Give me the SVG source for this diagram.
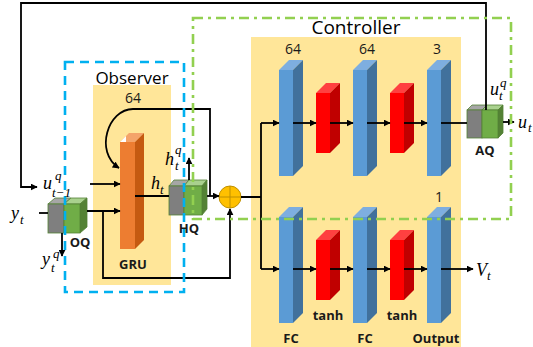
<svg xmlns="http://www.w3.org/2000/svg" width="533" height="347" viewBox="0 0 533 347">
<defs>
<style>
.bf{fill:#5b9bd5}.bs{fill:#41719c}.bt{fill:#7eaee0}
.rf{fill:#ff0000}.rs{fill:#c00000}.rt{fill:#ff4040}
.gf{fill:#7f7f7f;stroke:#548235;stroke-width:0.8}.gt{fill:#a6a6a6;stroke:#548235;stroke-width:0.8}
.qf{fill:#70ad47;stroke:#548235;stroke-width:0.8}.qs{fill:#548235;stroke:#548235;stroke-width:0.8}.qt{fill:#a9d18e;stroke:#548235;stroke-width:0.8}
.ln{fill:none;stroke:#000;stroke-width:1.8}
.ar{marker-end:url(#ah)}
.lbl{font-family:"Open Sans","Liberation Sans",sans-serif;fill:#000}
.bld{font-family:"Open Sans","Liberation Sans",sans-serif;font-weight:bold;font-size:13px;fill:#1a1a1a;text-anchor:middle}
.num{font-family:"Open Sans","Liberation Sans",sans-serif;font-size:14px;fill:#1a1a1a;text-anchor:middle}
.m{font-family:"Liberation Serif","DejaVu Serif",serif;font-style:italic;font-size:18px;fill:#000}
.ms{font-family:"Liberation Serif","DejaVu Serif",serif;font-style:italic;font-size:13px;fill:#000}
</style>
<marker id="ah" viewBox="0 0 10 10" refX="9" refY="5" markerWidth="7" markerHeight="7" markerUnits="userSpaceOnUse" orient="auto">
<path d="M0,0 L10,5 L0,10 z" fill="#000"/>
</marker>
</defs>
<rect width="533" height="347" fill="#fff"/>
<g id="observer-bg"><rect x="93" y="85" width="78" height="200" fill="#ffe699"/></g>
<g id="controller-bg"><rect x="251" y="37" width="210" height="310" fill="#ffe699"/></g>

<g id="gru">
<polygon points="120,142 129,133 144,133 135,142" fill="#f4a46a"/>
<polygon points="120,142 126,136 126,142" fill="#fff"/>
<polygon points="135,142 144,133 144,240 135,249" fill="#c55a11"/>
<rect x="120" y="142" width="15" height="107" fill="#ed7d31"/>
</g>

<g id="oq">
<polygon class="gt" points="48,204 55,198 71,198 64,204"/>
<polygon class="qt" points="64,204 71,198 87,198 80,204"/>
<polygon class="qs" points="80,204 87,198 87,227 80,233"/>
<rect class="gf" x="48" y="204" width="16" height="29"/>
<rect class="qf" x="64" y="204" width="16" height="29"/>
</g>

<g id="hq">
<polygon class="gt" points="169,186 174,180 189,180 184,186"/>
<polygon class="qt" points="184,186 189,180 207,180 202,186"/>
<polygon class="qs" points="202,186 207,180 207,209 202,215"/>
<rect class="gf" x="169" y="186" width="15" height="29"/>
<rect class="qf" x="184" y="186" width="18" height="29"/>
</g>

<g id="aq">
<polygon class="gt" points="467,110 472,105 487,105 482,110"/>
<polygon class="qt" points="482,110 487,105 503,105 498,110"/>
<polygon class="qs" points="498,110 503,105 503,133 498,138"/>
<rect class="gf" x="467" y="110" width="15" height="28"/>
<rect class="qf" x="482" y="110" width="16" height="28"/>
</g>

<g id="adder">
<circle cx="230" cy="197" r="11" fill="#ffc000" stroke="#bf9000" stroke-width="1"/>
<path d="M219 197 H241 M230 186 V208" stroke="#bf9000" stroke-width="1"/>
</g>

<g id="fc1-top">
<polygon class="bt" points="279,70 289,60 303,60 293,70"/><polygon class="bs" points="293,70 303,60 303,166 293,176"/><rect class="bf" x="279" y="70" width="14" height="106"/>
</g>
<g id="tanh1-top">
<polygon class="rt" points="316,93 326,83 340,83 330,93"/><polygon class="rs" points="330,93 340,83 340,143 330,153"/><rect class="rf" x="316" y="93" width="14" height="60"/>
</g>
<g id="fc2-top">
<polygon class="bt" points="353,70 363,60 377,60 367,70"/><polygon class="bs" points="367,70 377,60 377,166 367,176"/><rect class="bf" x="353" y="70" width="14" height="106"/>
</g>
<g id="tanh2-top">
<polygon class="rt" points="390,93 400,83 414,83 404,93"/><polygon class="rs" points="404,93 414,83 414,143 404,153"/><rect class="rf" x="390" y="93" width="14" height="60"/>
</g>
<g id="out-top">
<polygon class="bt" points="427,70 437,60 451,60 441,70"/><polygon class="bs" points="441,70 451,60 451,166 441,176"/><rect class="bf" x="427" y="70" width="14" height="106"/>
</g>

<g id="fc1-bot">
<polygon class="bt" points="279,217 289,207 303,207 293,217"/><polygon class="bs" points="293,217 303,207 303,313 293,323"/><rect class="bf" x="279" y="217" width="14" height="106"/>
</g>
<g id="tanh1-bot">
<polygon class="rt" points="316,240 326,230 340,230 330,240"/><polygon class="rs" points="330,240 340,230 340,290 330,300"/><rect class="rf" x="316" y="240" width="14" height="60"/>
</g>
<g id="fc2-bot">
<polygon class="bt" points="353,217 363,207 377,207 367,217"/><polygon class="bs" points="367,217 377,207 377,313 367,323"/><rect class="bf" x="353" y="217" width="14" height="106"/>
</g>
<g id="tanh2-bot">
<polygon class="rt" points="390,240 400,230 414,230 404,240"/><polygon class="rs" points="404,240 414,230 414,290 404,300"/><rect class="rf" x="390" y="240" width="14" height="60"/>
</g>
<g id="out-bot">
<polygon class="bt" points="427,217 437,207 451,207 441,217"/><polygon class="bs" points="441,217 451,207 451,313 441,323"/><rect class="bf" x="427" y="217" width="14" height="106"/>
</g>

<g id="connectors">
<path class="ln ar" d="M486 110 V3 H21 V187 H37"/>
<path class="ln" d="M39 213 H48"/>
<path class="ln ar" d="M87 211 H120"/>
<path class="ln ar" d="M103 211 V278 H230 V209"/>
<path class="ln ar" d="M62 233 V256"/>
<path class="ln ar" d="M90 184 H120"/>
<path class="ln" d="M135 196 H169"/>
<path class="ln ar" d="M189 180 V158"/>
<path class="ln ar" d="M207 196 H219"/>
<path class="ln ar" d="M210 196 V109 H133 C108 109 94 152 119 168"/>
<path class="ln" d="M241 197 H261 M261 123 V269"/>
<path class="ln ar" d="M261 123 H279"/>
<path class="ln ar" d="M293 123 H316"/>
<path class="ln ar" d="M330 123 H353"/>
<path class="ln ar" d="M367 123 H390"/>
<path class="ln ar" d="M404 123 H427"/>
<path class="ln" d="M441 123 H467"/>
<path class="ln ar" d="M503 122 H514"/>
<path class="ln ar" d="M261 269 H279"/>
<path class="ln ar" d="M293 269 H316"/>
<path class="ln ar" d="M330 269 H353"/>
<path class="ln ar" d="M367 269 H390"/>
<path class="ln ar" d="M404 269 H427"/>
<path class="ln ar" d="M441 269 H473"/>
</g>

<g id="observer-box"><rect x="65" y="62" width="119" height="230" fill="none" stroke="#00b0f0" stroke-width="2.6" stroke-dasharray="9 6"/></g>
<g id="controller-box"><rect x="193" y="18" width="318" height="201" fill="none" stroke="#92d050" stroke-width="2.6" stroke-dasharray="10 5 3 5"/></g>

<g id="labels">
<text class="lbl" x="132" y="84" font-size="17" text-anchor="middle">Observer</text>
<text class="lbl" x="356" y="34" font-size="19" text-anchor="middle">Controller</text>
<text class="num" x="133" y="103">64</text>
<text class="num" x="293" y="54">64</text>
<text class="num" x="367" y="54">64</text>
<text class="num" x="437" y="54">3</text>
<text class="num" x="439" y="202">1</text>
<text class="bld" x="133" y="269">GRU</text>
<text class="bld" x="189" y="233">HQ</text>
<text class="bld" x="80" y="247">OQ</text>
<text class="bld" x="485" y="155">AQ</text>
<text class="bld" x="328" y="320">tanh</text>
<text class="bld" x="402" y="320">tanh</text>
<text class="bld" x="291" y="343">FC</text>
<text class="bld" x="365" y="343">FC</text>
<text class="bld" x="436" y="343">Output</text>
<text class="m" x="11" y="219">y</text><text class="ms" x="20" y="224">t</text>
<text class="m" x="43" y="189">u</text><text class="ms" x="55" y="180">q</text><text class="ms" x="52" y="197">t−1</text>
<text class="m" x="42" y="265">y</text><text class="ms" x="53" y="258">q</text><text class="ms" x="51" y="272">t</text>
<text class="m" x="151" y="189">h</text><text class="ms" x="160" y="194">t</text>
<text class="m" x="165" y="165">h</text><text class="ms" x="175" y="154">q</text><text class="ms" x="175" y="170">t</text>
<text class="m" x="490" y="95">u</text><text class="ms" x="500" y="87">q</text><text class="ms" x="499" y="100">t</text>
<text class="m" x="518" y="128">u</text><text class="ms" x="528" y="132">t</text>
<text class="m" x="476" y="276">V</text><text class="ms" x="487" y="280">t</text>
</g>
</svg>
